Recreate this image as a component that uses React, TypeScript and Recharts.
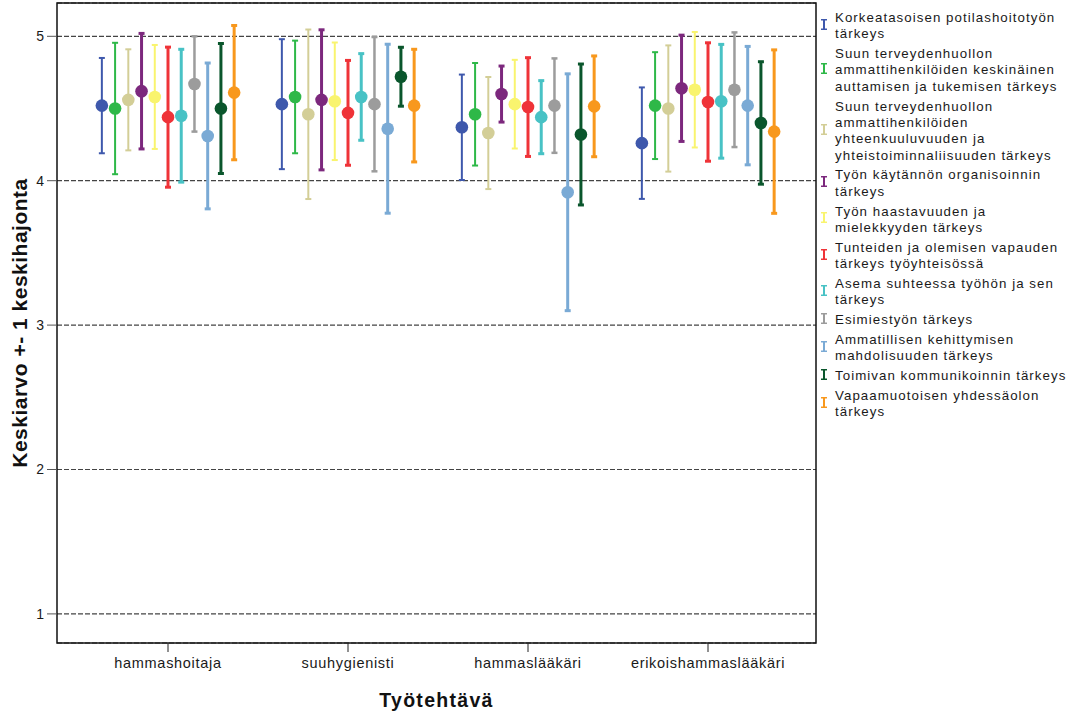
import React from 'react';
import { ScatterChart, Scatter, XAxis, YAxis, CartesianGrid, ErrorBar, ReferenceArea } from 'recharts';

const categories = ['hammashoitaja', 'suuhygienisti', 'hammaslääkäri', 'erikoishammaslääkäri'];

const seriesNames = [
  'Korkeatasoisen potilashoitotyön\ntärkeys',
  'Suun terveydenhuollon\nammattihenkilöiden keskinäinen\nauttamisen ja tukemisen tärkeys',
  'Suun terveydenhuollon\nammattihenkilöiden\nyhteenkuuluvuuden ja\nyhteistoiminnaliisuuden tärkeys',
  'Työn käytännön organisoinnin\ntärkeys',
  'Työn haastavuuden ja\nmielekkyyden tärkeys',
  'Tunteiden ja olemisen vapauden\ntärkeys työyhteisössä',
  'Asema suhteessa työhön ja sen\ntärkeys',
  'Esimiestyön tärkeys',
  'Ammatillisen kehittymisen\nmahdolisuuden tärkeys',
  'Toimivan kommunikoinnin tärkeys',
  'Vapaamuotoisen yhdessäolon\ntärkeys',
];

const seriesColors = ['#3E58AC', '#2EB848', '#D3CE97', '#7C287D', '#F9F46E', '#EF3338', '#48C2C5', '#9C9C9C', '#7AAAD5', '#0A562C', '#F8981D'];
const seriesStrokeWidths = [2, 2, 2, 3, 2, 3, 3, 2.5, 3, 3, 3];

// mean and standard deviation per category (one value per series)
const hammashoitajaMean = [4.52, 4.50, 4.56, 4.62, 4.58, 4.44, 4.45, 4.67, 4.31, 4.50, 4.61];
const hammashoitajaSd = [0.33, 0.455, 0.35, 0.40, 0.36, 0.485, 0.46, 0.33, 0.505, 0.45, 0.465];
const suuhygienistiMean = [4.53, 4.58, 4.46, 4.56, 4.55, 4.47, 4.58, 4.53, 4.36, 4.72, 4.52];
const suuhygienistiSd = [0.45, 0.39, 0.587, 0.485, 0.407, 0.363, 0.30, 0.465, 0.585, 0.204, 0.39];
const hammaslaakariMean = [4.37, 4.46, 4.33, 4.60, 4.53, 4.51, 4.44, 4.52, 3.92, 4.32, 4.515];
const hammaslaakariSd = [0.365, 0.355, 0.388, 0.194, 0.307, 0.342, 0.253, 0.327, 0.82, 0.488, 0.349];
const erikoishammaslaakariMean = [4.26, 4.52, 4.50, 4.64, 4.63, 4.545, 4.55, 4.63, 4.52, 4.40, 4.34];
const erikoishammaslaakariSd = [0.386, 0.37, 0.437, 0.368, 0.40, 0.41, 0.394, 0.397, 0.41, 0.424, 0.566];

const yTicks = [1, 2, 3, 4, 5];
const xTicks = [0, 1, 2, 3];

const meansByCategory = [hammashoitajaMean, suuhygienistiMean, hammaslaakariMean, erikoishammaslaakariMean];
const sdsByCategory = [hammashoitajaSd, suuhygienistiSd, hammaslaakariSd, erikoishammaslaakariSd];

const OFFSET_STEP = 0.0735;
const X_DOMAIN: [number, number] = [-0.6167, 3.6];
const Y_DOMAIN: [number, number] = [0.7985, 5.2306];

const seriesData = seriesNames.map((_, s) =>
  categories.map((_c, ci) => ({
    x: ci + (s - 5) * OFFSET_STEP,
    y: meansByCategory[ci][s],
    err: sdsByCategory[ci][s],
  }))
);

const FONT = '"Liberation Sans", Arial, sans-serif';

const YTitle = (props: any) => {
  const vb = props.viewBox || {};
  const cy = (vb.y ?? 3) + (vb.height ?? 640) / 2;
  return (
    <text
      x={27}
      y={cy}
      transform={`rotate(-90, 27, ${cy})`}
      textAnchor="middle"
      fontFamily={FONT}
      fontWeight="bold"
      fontSize={21}
      letterSpacing={0.5}
      fill="#111"
    >
      Keskiarvo +- 1 keskihajonta
    </text>
  );
};

const XTitle = (props: any) => {
  const vb = props.viewBox || {};
  const cx = (vb.x ?? 57) + (vb.width ?? 759) / 2;
  return (
    <text x={cx} y={707} textAnchor="middle" fontFamily={FONT} fontWeight="bold" fontSize={19.5} letterSpacing={1.3} fill="#111">
      Työtehtävä
    </text>
  );
};

const LegendIcon = ({ color }: { color: string }) => (
  <svg width={8} height={11} style={{ display: 'block' }}>
    <line x1={4} y1={0.75} x2={4} y2={10.25} stroke={color} strokeWidth={2} />
    <line x1={1} y1={0.75} x2={7} y2={0.75} stroke={color} strokeWidth={1.5} />
    <line x1={1} y1={10.25} x2={7} y2={10.25} stroke={color} strokeWidth={1.5} />
  </svg>
);

const SideLegend = () => (
  <div style={{ position: 'absolute', left: 820, top: 10, width: 260, fontFamily: FONT, fontSize: 13.3, color: '#1a1a1a' }}>
    {seriesNames.map((name, i) => (
      <div key={i} style={{ display: 'flex', alignItems: 'center', marginBottom: 3.6 }}>
        <div style={{ width: 15, flex: '0 0 15px', position: 'relative', top: -2 }}>
          <LegendIcon color={seriesColors[i]} />
        </div>
        <div style={{ whiteSpace: 'pre-line', lineHeight: '16.3px', letterSpacing: 1.05 }}>{name}</div>
      </div>
    ))}
  </div>
);

export default function App() {
  return (
    <div style={{ position: 'absolute', left: 0, top: 0, width: 1080, height: 716, background: '#fff' }}>
      <ScatterChart width={1080} height={716} margin={{ top: 3, right: 264, bottom: 0, left: 0 }}>
        <CartesianGrid vertical={false} stroke="#444" strokeDasharray="5 2" strokeWidth={1.2} />
        <XAxis
          type="number"
          dataKey="x"
          domain={X_DOMAIN}
          ticks={xTicks}
          allowDataOverflow
          height={73}
          tickSize={9}
          tickMargin={6}
          axisLine={false}
          tickLine={{ stroke: '#222' }}
          tick={{ fontFamily: FONT, fontSize: 14.5, fill: '#1a1a1a', letterSpacing: 0.7 }}
          tickFormatter={(v: number) => categories[Math.round(v)] ?? ''}
          label={<XTitle />}
        />
        <YAxis
          type="number"
          dataKey="y"
          domain={Y_DOMAIN}
          ticks={yTicks}
          allowDataOverflow
          width={57}
          tickSize={10}
          tickMargin={3}
          axisLine={false}
          tickLine={{ stroke: '#555' }}
          tick={{ fontFamily: FONT, fontSize: 14, fill: '#1a1a1a' }}
          label={<YTitle />}
        />
        <ReferenceArea
          x1={X_DOMAIN[0]}
          x2={X_DOMAIN[1]}
          y1={Y_DOMAIN[0]}
          y2={Y_DOMAIN[1]}
          fill="none"
          fillOpacity={0}
          stroke="#111"
          strokeWidth={1.5}
          ifOverflow="visible"
        />
        {seriesNames.map((name, s) => (
          <Scatter
            key={name}
            name={name}
            data={seriesData[s]}
            fill={seriesColors[s]}
            isAnimationActive={false}
            shape={(p: any) => <circle cx={p.cx} cy={p.cy} r={6.3} fill={seriesColors[s]} />}
          >
            <ErrorBar
              dataKey="err"
              direction="y"
              width={3}
              stroke={seriesColors[s]}
              strokeWidth={seriesStrokeWidths[s]}
              isAnimationActive={false}
            />
          </Scatter>
        ))}
      </ScatterChart>
      <SideLegend />
    </div>
  );
}
